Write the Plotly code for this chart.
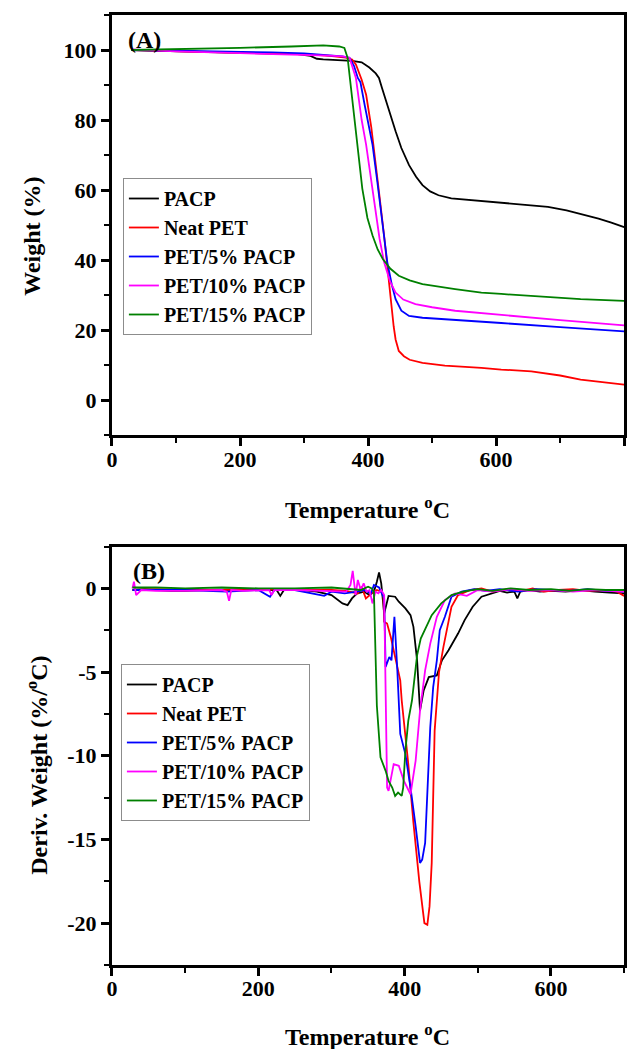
import plotly.graph_objects as go

W_PX, H_PX = 639, 1049

series_names = ["PACP", "Neat PET", "PET/5% PACP", "PET/10% PACP", "PET/15% PACP"]
series_colors = ["#000000", "#ff0000", "#0000ff", "#ff00ff", "#008000"]

# ---------------- Panel A : TGA (Weight %) ----------------
tga_pacp_T = [30, 60, 100, 150, 200, 250, 290, 310, 320, 330, 345, 360, 375, 390, 402, 412, 417, 422, 428, 435,
              443, 452, 464, 475, 485, 497, 510, 530, 562, 608, 650, 681, 710, 732, 760, 780, 800]
tga_pacp_W = [100, 99.8, 99.6, 99.4, 99.2, 99.0, 98.8, 98.3, 97.5, 97.3, 97.2, 97.2, 96.9, 96.5, 95.0, 93.3, 92.0,
              89.0, 85.3, 81.0, 76.8, 72.0, 67.1, 63.8, 61.4, 59.6, 58.5, 57.6, 57.1, 56.4, 55.8, 55.2, 54.2, 53.2,
              51.8, 50.7, 49.4]

tga_pet_T = [30, 100, 200, 300, 340, 365, 375, 381, 390, 397, 405, 412, 418, 425, 430, 435, 440, 443, 448, 456,
             465, 485, 520, 577, 608, 655, 700, 732, 770, 800]
tga_pet_W = [100, 99.7, 99.3, 98.8, 98.3, 97.8, 97.3, 95.9, 91.5, 87.2, 78.0, 68.0, 58.0, 47.0, 38.0, 29.8, 21.0,
             17.3, 14.0, 12.5, 11.5, 10.6, 9.8, 9.2, 8.7, 8.2, 7.0, 5.8, 5.0, 4.4]

tga_p5_T = [30, 100, 200, 250, 300, 340, 360, 371, 378, 384, 388, 395, 407, 414, 420, 425, 430, 437, 443, 452,
            464, 485, 530, 577, 608, 700, 800]
tga_p5_W = [100, 99.8, 99.5, 99.3, 99.0, 98.6, 98.2, 97.8, 95.5, 92.0, 90.8, 84.0, 72.9, 63.0, 53.7, 46.0, 39.4,
            33.0, 28.8, 25.5, 24.0, 23.5, 23.0, 22.4, 22.0, 20.8, 19.6]

tga_p10_T = [30, 100, 200, 300, 340, 360, 371, 381, 390, 397, 405, 412, 418, 425, 434, 443, 455, 474, 500, 536,
             577, 608, 700, 800]
tga_p10_W = [100.2, 99.6, 99.1, 98.7, 98.4, 98.2, 97.8, 92.0, 80.0, 72.9, 62.5, 53.7, 46.0, 39.4, 34.0, 30.7,
             28.7, 27.4, 26.5, 25.5, 24.8, 24.2, 22.8, 21.3]

tga_p15_T = [30, 100, 200, 280, 330, 355, 363, 368, 374, 381, 386, 391, 399, 407, 415, 423, 435, 448, 465, 485,
             536, 577, 608, 660, 732, 800]
tga_p15_W = [100, 100.2, 100.6, 101.0, 101.3, 101.0, 100.6, 97.8, 88.0, 77.7, 69.0, 60.4, 52.0, 47.0, 43.0, 40.3,
             37.5, 35.5, 34.2, 33.1, 31.7, 30.7, 30.3, 29.6, 28.8, 28.3]

# ---------------- Panel B : DTG (Deriv. Weight %/oC) ----------------
dtg_pacp_T = [28, 45, 60, 80, 100, 125, 150, 175, 200, 225, 230, 235, 260, 280, 300, 306, 315, 322, 328, 335,
              345, 352, 358, 362, 365, 368, 372, 378, 387, 392, 401, 408, 412, 417, 421, 426, 433, 444, 451, 460,
              473, 482, 493, 505, 518, 530, 540, 550, 554, 558, 570, 585, 600, 620, 640, 660, 680, 700]
dtg_pacp_D = [-0.1, -0.05, -0.1, -0.15, -0.15, -0.1, -0.1, -0.05, -0.1, -0.1, -0.45, -0.1, -0.1, -0.2, -0.4,
              -0.6, -0.9, -1.0, -0.6, -0.3, -0.2, -0.4, -0.2, 0.4, 0.95, 0.3, -1.5, -0.45, -0.5, -0.8, -1.2, -1.6,
              -2.3, -4.3, -7.3, -6.1, -5.3, -5.2, -4.3, -3.7, -2.7, -1.9, -1.1, -0.5, -0.3, -0.15, -0.25, -0.2,
              -0.6, -0.2, -0.1, -0.2, -0.15, -0.2, -0.1, -0.2, -0.25, -0.3]

dtg_pet_T = [28, 60, 100, 150, 200, 250, 300, 320, 336, 341, 347, 355, 362, 368, 371, 372, 376, 381, 387, 394,
             396, 405, 412, 420, 427, 431, 434, 437, 441, 444, 447, 453, 460, 464, 473, 490, 505, 520, 540, 560,
             575, 590, 610, 630, 650, 670, 690, 700]
dtg_pet_D = [-0.1, -0.05, -0.1, -0.1, -0.05, -0.1, -0.1, -0.15, -0.3, 0.1, -0.6, -0.3, -0.1, -0.2, -0.5, -2.0,
             -2.1, -2.9, -4.1, -5.5, -6.7, -10.5, -14.0, -17.5, -20.0, -20.1, -19.0, -16.4, -8.5, -6.5, -5.0,
             -3.5, -2.0, -1.1, -0.4, -0.1, 0.0, -0.2, -0.05, -0.15, 0.0, -0.2, -0.1, -0.05, -0.15, -0.1, -0.2,
             -0.45]

dtg_p5_T = [28, 60, 100, 157, 200, 216, 222, 250, 271, 290, 300, 318, 335, 345, 354, 358, 365, 372, 374, 379,
            382, 386, 390, 394, 401, 408, 415, 421, 424, 428, 435, 439, 444, 448, 455, 464, 478, 495, 510, 530,
            555, 580, 600, 625, 650, 675, 700]
dtg_p5_D = [-0.1, -0.1, -0.1, -0.2, -0.1, -0.5, -0.1, -0.1, -0.3, -0.45, -0.2, -0.3, -0.2, -0.1, -0.3, 0.2, 0.05,
            -0.6, -4.7, -4.1, -4.3, -1.7, -4.9, -8.7, -9.9, -11.9, -14.2, -16.4, -16.2, -15.2, -8.3, -5.9, -4.3,
            -2.5, -1.7, -0.5, -0.2, -0.05, -0.15, -0.05, -0.2, -0.05, -0.1, -0.15, -0.05, -0.15, -0.2]

dtg_p10_T = [28, 30, 33, 40, 60, 100, 150, 157, 160, 163, 180, 200, 215, 218, 222, 250, 300, 320, 326, 329, 333,
             336, 340, 344, 348, 352, 356, 360, 364, 368, 372, 374, 376, 378, 385, 392, 399, 408, 415, 421, 428,
             435, 444, 455, 469, 485, 500, 520, 545, 570, 600, 630, 660, 700]
dtg_p10_D = [0.0, 0.4, -0.4, -0.1, -0.15, -0.15, -0.1, -0.2, -0.75, -0.1, -0.15, -0.1, -0.1, -0.4, -0.1, -0.1,
             -0.15, -0.2, 0.2, 1.05, -0.4, 0.5, -0.1, 0.3, -0.2, -0.1, -0.9, -0.2, -0.3, -0.1, -0.4, -5.0, -11.9,
             -12.1, -10.5, -10.6, -11.5, -12.3, -10.3, -7.3, -4.9, -3.3, -1.7, -0.7, -0.3, -0.45, -0.1, -0.2,
             -0.05, -0.15, -0.1, -0.2, -0.1, -0.2]

dtg_p15_T = [28, 60, 100, 150, 200, 250, 300, 330, 340, 350, 355, 358, 362, 367, 374, 378, 383, 387, 391, 396,
             398, 401, 405, 410, 417, 422, 428, 437, 450, 464, 480, 500, 520, 545, 570, 600, 625, 650, 675, 700]
dtg_p15_D = [0.05, 0.05, 0.0, 0.05, 0.0, 0.0, 0.05, -0.05, -0.1, 0.1, 0.0, -0.2, -7.0, -10.1, -10.9, -11.5,
             -11.9, -12.4, -12.2, -12.4, -11.9, -9.7, -7.9, -6.7, -4.0, -3.0, -2.4, -1.6, -0.9, -0.4, -0.2, -0.05,
             -0.15, 0.0, -0.1, -0.05, -0.15, -0.05, -0.1, -0.1]

tga_T = [tga_pacp_T, tga_pet_T, tga_p5_T, tga_p10_T, tga_p15_T]
tga_W = [tga_pacp_W, tga_pet_W, tga_p5_W, tga_p10_W, tga_p15_W]
dtg_T = [dtg_pacp_T, dtg_pet_T, dtg_p5_T, dtg_p10_T, dtg_p15_T]
dtg_D = [dtg_pacp_D, dtg_pet_D, dtg_p5_D, dtg_p10_D, dtg_p15_D]

tga_xticks = [0, 200, 400, 600, 800]
tga_yticks = [0, 20, 40, 60, 80, 100]
dtg_xticks = [0, 200, 400, 600]
dtg_yticks = [0, -5, -10, -15, -20]
dtg_yticktext = ["0", "-5", "-10", "-15", "-20"]


def fx(px):
    return px / W_PX


def fy(py):
    return 1 - py / H_PX


SERIF = "Liberation Serif"
fig = go.Figure()

for name, color, T, Wt in zip(series_names, series_colors, tga_T, tga_W):
    fig.add_trace(go.Scatter(x=T, y=Wt, mode="lines", name=name, line=dict(color=color, width=1.8),
                             xaxis="x", yaxis="y", legend="legend"))
for name, color, T, D in zip(series_names, series_colors, dtg_T, dtg_D):
    fig.add_trace(go.Scatter(x=T, y=D, mode="lines", name=name, line=dict(color=color, width=1.8),
                             xaxis="x2", yaxis="y2", legend="legend2"))

tickfont = dict(family=SERIF, size=22, color="black", weight="bold")
axis_common = dict(showline=True, linewidth=3, linecolor="black", mirror=True, ticks="outside",
                   ticklen=8, tickwidth=2.5, tickcolor="black", showgrid=False, zeroline=False,
                   tickfont=tickfont)
minor_common = dict(ticklen=5, tickwidth=2, ticks="outside", tickcolor="black", tick0=0)

legend_font = dict(family=SERIF, size=20, color="black", weight="bold")

fig.update_layout(
    width=W_PX, height=H_PX,
    margin=dict(l=0, r=0, t=0, b=0),
    paper_bgcolor="white", plot_bgcolor="white",
    xaxis=dict(domain=[fx(107), fx(624)], range=[0, 800], tickvals=tga_xticks, anchor="y",
               ticklabelstandoff=-5, minor=dict(dtick=100, **minor_common), **axis_common),
    yaxis=dict(domain=[fy(435), fy(15)], range=[-10, 110], tickvals=tga_yticks, anchor="x",
               minor=dict(dtick=10, **minor_common), **axis_common),
    xaxis2=dict(domain=[fx(107), fx(624)], range=[0, 700], tickvals=dtg_xticks, anchor="y2",
                ticklabelstandoff=-6, minor=dict(dtick=100, **minor_common), **axis_common),
    yaxis2=dict(domain=[fy(965), fy(546.5)], range=[-22.5, 2.5], tickvals=dtg_yticks, ticktext=dtg_yticktext,
                anchor="x2", minor=dict(dtick=2.5, **minor_common), **axis_common),
    legend=dict(x=fx(118), y=fy(178), xanchor="left", yanchor="top", bordercolor="#8c8c8c", borderwidth=1,
                bgcolor="rgba(255,255,255,0)", font=legend_font, tracegroupgap=0),
    legend2=dict(x=fx(116), y=fy(664), xanchor="left", yanchor="top", bordercolor="#8c8c8c", borderwidth=1,
                 bgcolor="rgba(255,255,255,0)", font=legend_font, tracegroupgap=0),
    showlegend=True,
)

title_font = dict(family=SERIF, size=24, color="black", weight="bold")
annotations = [
    dict(text="(A)", x=fx(140), y=fy(40)),
    dict(text="(B)", x=fx(144), y=fy(571)),
    dict(text="Temperature <sup>o</sup>C", x=fx(365), y=fy(508)),
    dict(text="Temperature <sup>o</sup>C", x=fx(365), y=fy(1035)),
    dict(text="Weight (%)", x=fx(26), y=fy(236), textangle=-90),
    dict(text="Deriv. Weight (%/<sup>o</sup>C)", x=fx(31), y=fy(765), textangle=-90),
]
for a in annotations:
    fig.add_annotation(xref="paper", yref="paper", showarrow=False, xanchor="center", yanchor="middle",
                       font=title_font, **a)

fig.write_html("out.html")
